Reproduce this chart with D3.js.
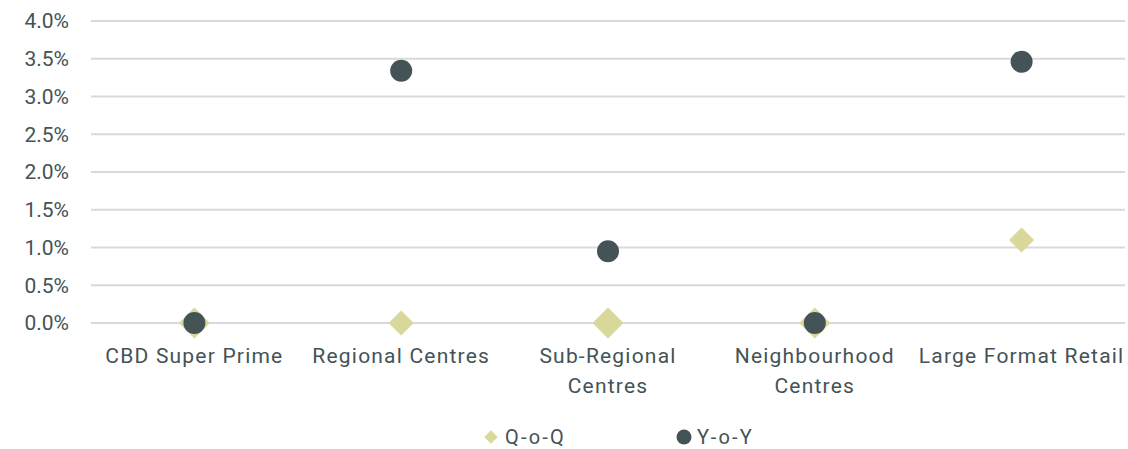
<!DOCTYPE html>
<html lang="en">
  <head>
    <meta charset="utf-8">
    <title>Retail yield change</title>
    <script src="https://d3js.org/d3.v7.min.js"></script>
    <style type="text/css">
      body { margin: 0; background: #fff; }
      text { font-family: Roboto, "Noto Sans", sans-serif; fill: #435356; }
      .grid line { stroke: #d9d9d9; stroke-width: 2px; }
      .cat { font-size: 21px; letter-spacing: 1.2px; }
      .leg { font-size: 20px; letter-spacing: 2.2px; }
    </style>
  </head>
  <body>
    <script>
      var w = 1128, h = 449;

      var categories = [["CBD Super Prime"], ["Regional Centres"],
          ["Sub-Regional", "Centres"], ["Neighbourhood", "Centres"],
          ["Large Format Retail"]];
      var qoq = [0, 0, 0, 0, 1.1];
      var yoy = [0, 3.34, 0.95, 0, 3.46];
      var yTicks = [0, 0.5, 1, 1.5, 2, 2.5, 3, 3.5, 4];
      var seriesNames = ["Q-o-Q", "Y-o-Y"];

      var qColor = "#d9d89b", yColor = "#435356";

      var svg = d3.select("body").append("svg")
          .attr("width", w).attr("height", h);

      var xScale = d3.scaleBand()
        .domain(d3.range(categories.length))
        .range([91, 1125]);

      var yScale = d3.scaleLinear()
        .domain([0, 4])
        .range([323, 21]);

      svg.append("g").attr("class", "grid")
        .selectAll("line").data(yTicks).enter().append("line")
        .attr("x1", 91).attr("x2", 1125)
        .attr("y1", d => yScale(d)).attr("y2", d => yScale(d));

      svg.append("g").selectAll("text").data(yTicks).enter().append("text")
        .attr("x", 69).attr("y", d => yScale(d))
        .attr("dy", "0.35em")
        .attr("text-anchor", "end")
        .style("font-size", "21px")
        .text(d => d.toFixed(1) + "%");

      var labels = svg.append("g").selectAll("text").data(categories).enter()
        .append("text")
        .attr("class", "cat")
        .attr("x", (d, i) => xScale(i) + xScale.bandwidth() / 2)
        .attr("y", 363)
        .attr("text-anchor", "middle");
      labels.selectAll("tspan").data(d => d).enter().append("tspan")
        .attr("x", function () { return d3.select(this.parentNode).attr("x"); })
        .attr("dy", (d, i) => i === 0 ? 0 : 29.5)
        .text(d => d);

      var cx = i => xScale(i) + xScale.bandwidth() / 2;

      // diamonds (the ones at zero sit a bit larger in the original)
      svg.append("g").selectAll("path").data(qoq).enter().append("path")
        .attr("d", (d, i) => d3.symbol().type(d3.symbolDiamond2)
            .size(i === 1 || i === 4 ? 400 : 610)())
        .attr("transform", (d, i) => "translate(" + cx(i) + "," + yScale(d) + ")")
        .attr("fill", qColor);

      svg.append("g").selectAll("circle").data(yoy).enter().append("circle")
        .attr("cx", (d, i) => cx(i))
        .attr("cy", d => yScale(d))
        .attr("r", 11)
        .attr("fill", yColor);

      // legend
      var lg = svg.append("g");
      lg.append("path")
        .attr("d", d3.symbol().type(d3.symbolDiamond2).size(115)())
        .attr("transform", "translate(491,437)")
        .attr("fill", qColor);
      lg.append("text").attr("class", "leg")
        .attr("x", 505).attr("y", 444)
        .text(seriesNames[0]);
      lg.append("circle").attr("cx", 684).attr("cy", 437).attr("r", 7.5)
        .attr("fill", yColor);
      lg.append("text").attr("class", "leg")
        .attr("x", 697).attr("y", 444)
        .text(seriesNames[1]);
    </script>
  </body>
</html>
